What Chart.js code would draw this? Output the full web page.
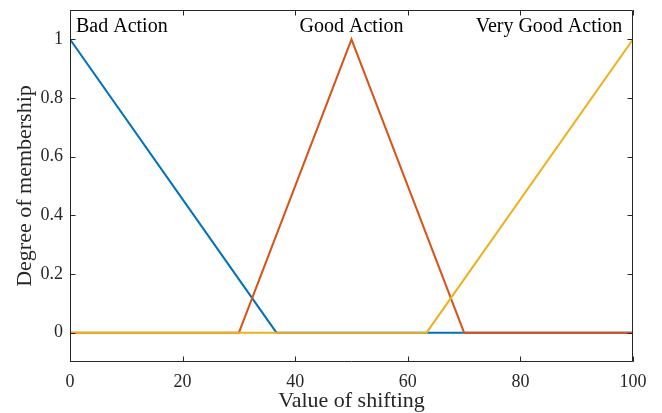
<!DOCTYPE html>
<html>
<head>
<meta charset="utf-8">
<script src="https://cdn.jsdelivr.net/npm/chart.js@4/dist/chart.umd.min.js"></script>
<style>
html,body{margin:0;padding:0;background:#fff;}
canvas{display:block;}
</style>
</head>
<body>
<canvas id="c" width="662" height="413"></canvas>
<script>
// ---- data ----
const badX = [0, 36.67, 100];
const badY = [1, 0, 0];
const goodX = [0, 30, 50, 70, 100];
const goodY = [0, 0, 1, 0, 0];
const veryGoodX = [0, 63.33, 100];
const veryGoodY = [0, 0, 1];
const xTicks = [0, 20, 40, 60, 80, 100];
const yTicks = [0, 0.2, 0.4, 0.6, 0.8, 1];
const labelTexts = ['Bad Action', 'Good Action', 'Very Good Action'];
const labelX = [1.07, 50, 98.1];
const labelAlign = ['left', 'center', 'right'];
const labelY = 1.025;

const FONT = "'Liberation Serif', 'Times New Roman', serif";
const INK = '#262626';
const toPts = (xs, ys) => xs.map((x, i) => ({x: x, y: ys[i]}));

const boxPlugin = {
  id: 'matlabBox',
  afterDraw(chart) {
    const {ctx, chartArea: a, scales} = chart;
    ctx.save();
    ctx.strokeStyle = INK;
    ctx.lineWidth = 1;
    ctx.beginPath();
    ctx.rect(Math.round(a.left) + 0.5, Math.round(a.top) + 0.5, Math.round(a.right - a.left) - 1, Math.round(a.bottom - a.top) - 1);
    ctx.stroke();
    const L = 5.5;
    ctx.beginPath();
    xTicks.forEach(v => {
      const px = Math.round(scales.x.getPixelForValue(v)) + 0.5;
      ctx.moveTo(px, a.bottom); ctx.lineTo(px, a.bottom - L);
      ctx.moveTo(px, a.top); ctx.lineTo(px, a.top + L);
    });
    yTicks.forEach(v => {
      const py = Math.round(scales.y.getPixelForValue(v)) + 0.5;
      ctx.moveTo(a.left, py); ctx.lineTo(a.left + L, py);
      ctx.moveTo(a.right, py); ctx.lineTo(a.right - L, py);
    });
    ctx.stroke();
    // text labels
    ctx.fillStyle = '#000';
    ctx.font = '20px ' + FONT;
    ctx.textBaseline = 'alphabetic';
    labelTexts.forEach((t, i) => {
      ctx.textAlign = labelAlign[i];
      ctx.fillText(t, scales.x.getPixelForValue(labelX[i]), scales.y.getPixelForValue(labelY));
    });
    ctx.restore();
  }
};

new Chart(document.getElementById('c'), {
  type: 'line',
  data: {
    datasets: [
      {label: 'Bad Action', data: toPts(badX, badY), borderColor: '#0072BD', order: 3},
      {label: 'Good Action', data: toPts(goodX, goodY), borderColor: '#D95319', order: 2},
      {label: 'Very Good Action', data: toPts(veryGoodX, veryGoodY), borderColor: '#EDB120', order: 1}
    ]
  },
  options: {
    responsive: false,
    animation: false,
    events: [],
    elements: {
      line: {borderWidth: 2, tension: 0, fill: false},
      point: {radius: 0}
    },
    layout: {padding: {left: 0, right: 29, top: 10, bottom: 0}},
    plugins: {legend: {display: false}, tooltip: {enabled: false}},
    scales: {
      x: {
        type: 'linear', min: 0, max: 100,
        grid: {display: false, drawTicks: false},
        border: {display: false},
        afterBuildTicks: s => { s.ticks = xTicks.map(v => ({value: v})); },
        afterFit: s => { s.height = 51; s.paddingLeft = 0; s.paddingRight = 0; },
        ticks: {font: {family: FONT, size: 18}, color: INK, padding: 9, maxRotation: 0,
                callback: v => String(v)},
        title: {display: true, text: 'Value of shifting', font: {family: FONT, size: 22}, color: INK,
                padding: {top: 0, bottom: -1}}
      },
      y: {
        type: 'linear', min: -0.1, max: 1.1,
        grid: {display: false, drawTicks: false},
        border: {display: false},
        afterBuildTicks: s => { s.ticks = yTicks.map(v => ({value: v})); },
        afterFit: s => { s.width = 70; s.paddingTop = 0; s.paddingBottom = 0; },
        ticks: {font: {family: FONT, size: 18}, color: INK, padding: 7,
                callback: v => String(+v.toFixed(1))},
        title: {display: true, text: 'Degree of membership', font: {family: FONT, size: 22}, color: INK,
                padding: {top: 12, bottom: 0}}
      }
    }
  },
  plugins: [boxPlugin]
});
</script>
</body>
</html>
